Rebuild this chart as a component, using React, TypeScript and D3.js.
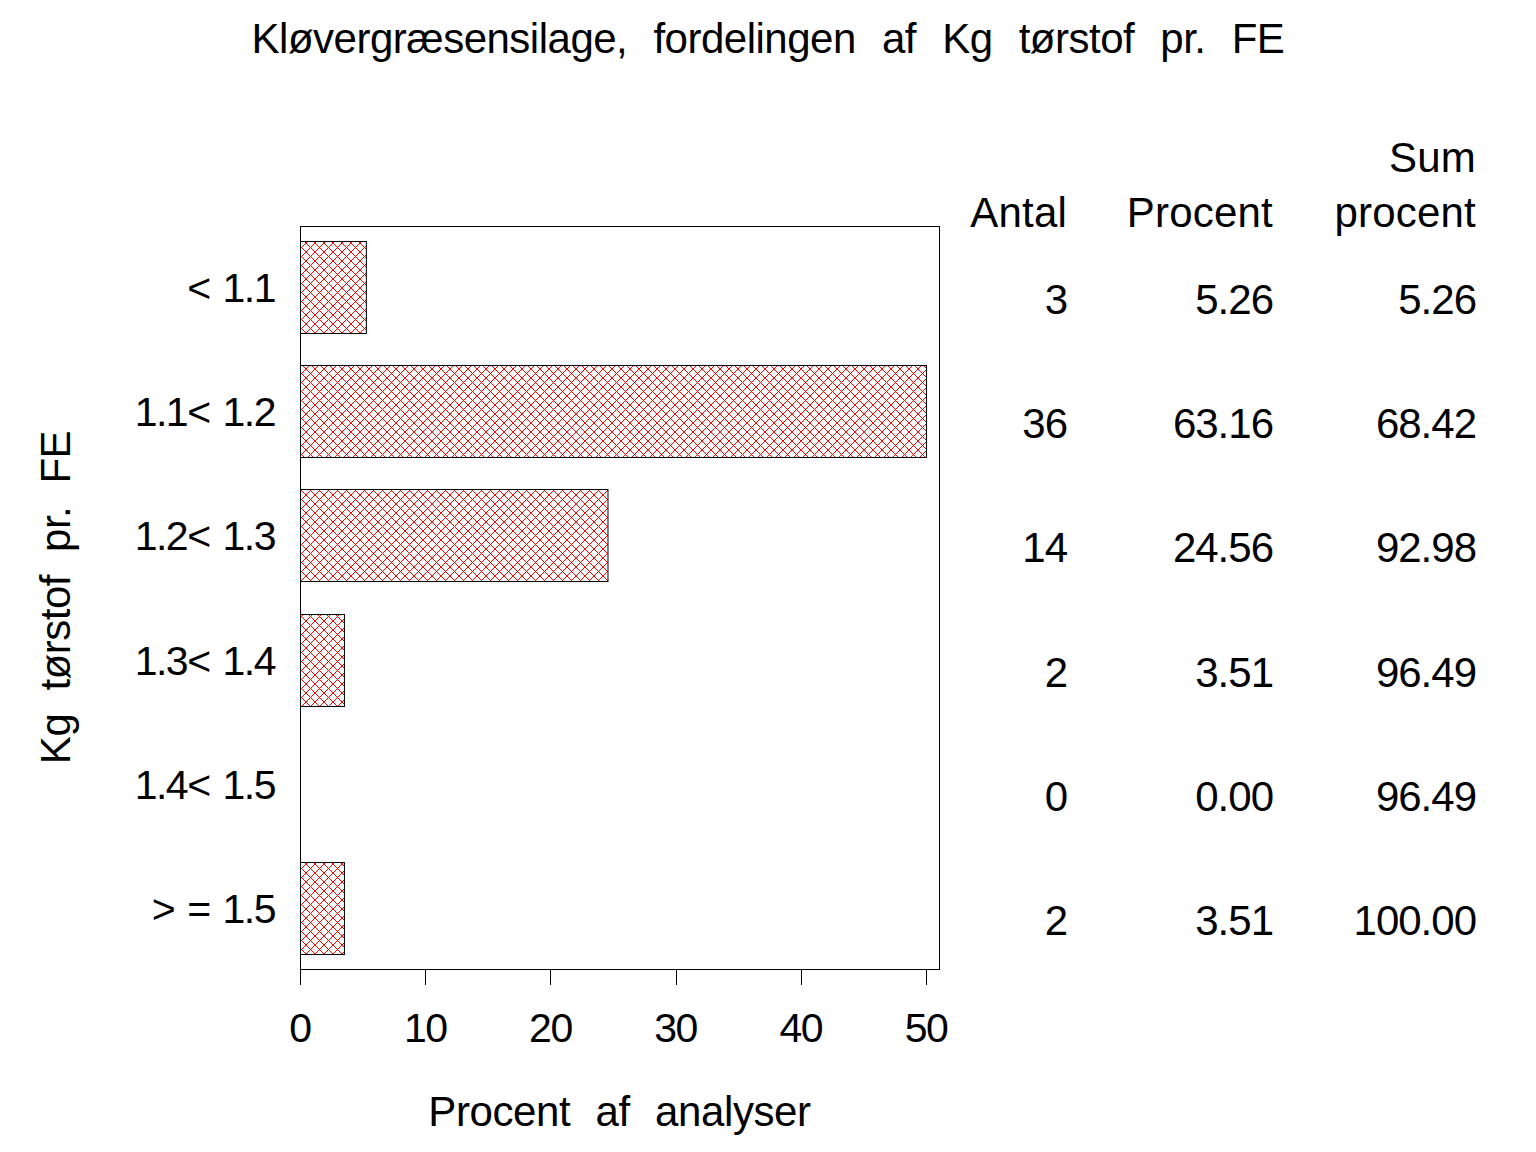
import React from "react";
import * as d3 from "d3";

// Data
const categories = ["< 1.1", "1.1< 1.2", "1.2< 1.3", "1.3< 1.4", "1.4< 1.5", "> = 1.5"];
const antal = [3, 36, 14, 2, 0, 2];
const procent = [5.26, 63.16, 24.56, 3.51, 0.0, 3.51];
const sumProcent = [5.26, 68.42, 92.98, 96.49, 96.49, 100.0];
const xTicks = [0, 10, 20, 30, 40, 50];

const title = "Kløvergræsensilage, fordelingen af Kg tørstof pr. FE";
const xLabel = "Procent af analyser";
const yLabel = "Kg tørstof pr. FE";

const W = 1536;
const H = 1152;
const FONT = "'Liberation Sans', Arial, sans-serif";

const App: React.FC = () => {
  // plot frame
  const frame = { left: 300, right: 939, top: 226, bottom: 969 };

  const x = d3.scaleLinear().domain([0, 50]).range([frame.left, 926]).clamp(true);
  const y = d3
    .scaleBand<string>()
    .domain(categories)
    .range([frame.top, frame.bottom])
    .paddingInner(0.258)
    .paddingOuter(0.121);

  const cols = [
    { right: 1067, header: ["", "Antal"], values: antal.map((d) => String(d)) },
    { right: 1273, header: ["", "Procent"], values: procent.map((d) => d.toFixed(2)) },
    { right: 1476, header: ["Sum", "procent"], values: sumProcent.map((d) => d.toFixed(2)) },
  ];

  const textStyle: React.CSSProperties = { fontFamily: FONT, fill: "#000" };

  return (
    <div style={{ position: "absolute", left: 0, top: 0 }}>
      <svg width={W} height={H} style={{ display: "block", background: "#fff" }}>
        <defs>
          <pattern id="hatch" patternUnits="userSpaceOnUse" width={9} height={9}>
            <rect width={9} height={9} fill="#fff" />
            <path d="M0,0 L9,9 M9,0 L0,9" stroke="#ff0000" strokeWidth={1} />
          </pattern>
        </defs>

        {/* title */}
        <text
          x={W / 2}
          y={53}
          textAnchor="middle"
          fontSize={42}
          letterSpacing={-0.5}
          wordSpacing={15}
          style={textStyle}
        >
          {title}
        </text>

        {/* frame */}
        <rect
          x={frame.left + 0.5}
          y={frame.top + 0.5}
          width={frame.right - frame.left}
          height={frame.bottom - frame.top}
          fill="none"
          stroke="#000"
          strokeWidth={1}
        />

        {/* bars */}
        {categories.map((c, i) =>
          procent[i] > 0 ? (
            <rect
              key={c}
              x={x(0) + 0.5}
              y={Math.round(y(c)!) + 0.5}
              width={x(procent[i]) - x(0)}
              height={Math.round(y.bandwidth())}
              fill="url(#hatch)"
              stroke="#000"
              strokeWidth={1}
            />
          ) : null
        )}

        {/* x axis ticks */}
        {xTicks.map((t) => (
          <g key={t}>
            <line
              x1={Math.round(x(t)) + 0.5}
              x2={Math.round(x(t)) + 0.5}
              y1={frame.bottom}
              y2={frame.bottom + 16}
              stroke="#000"
            />
            <text
              x={x(t)}
              y={1042}
              textAnchor="middle"
              fontSize={41}
              letterSpacing={-1.5}
              style={textStyle}
            >
              {t}
            </text>
          </g>
        ))}

        {/* x label */}
        <text
          x={(frame.left + frame.right) / 2}
          y={1126}
          textAnchor="middle"
          fontSize={42}
          letterSpacing={-0.4}
          wordSpacing={14}
          style={textStyle}
        >
          {xLabel}
        </text>

        {/* y tick labels */}
        {categories.map((c) => (
          <text
            key={c}
            x={275}
            y={y(c)! + y.bandwidth() / 2 + 15}
            textAnchor="end"
            fontSize={41}
            letterSpacing={-1.5}
            wordSpacing={3}
            style={textStyle}
          >
            {c}
          </text>
        ))}

        {/* y label */}
        <text
          transform={`translate(70, ${(frame.top + frame.bottom) / 2}) rotate(-90)`}
          textAnchor="middle"
          fontSize={42}
          letterSpacing={-0.5}
          wordSpacing={12}
          style={textStyle}
        >
          {yLabel}
        </text>

        {/* table */}
        {cols.map((col, ci) => (
          <g key={ci}>
            <text x={col.right} y={172} textAnchor="end" fontSize={42} letterSpacing={0.2} style={textStyle}>
              {col.header[0]}
            </text>
            <text x={col.right} y={227} textAnchor="end" fontSize={42} letterSpacing={0.2} style={textStyle}>
              {col.header[1]}
            </text>
            {categories.map((c, i) => (
              <text
                key={c}
                x={col.right}
                y={y(c)! + y.bandwidth() / 2 + 27}
                textAnchor="end"
                fontSize={42}
                letterSpacing={-1}
                style={textStyle}
              >
                {col.values[i]}
              </text>
            ))}
          </g>
        ))}
      </svg>
    </div>
  );
};

export default App;
